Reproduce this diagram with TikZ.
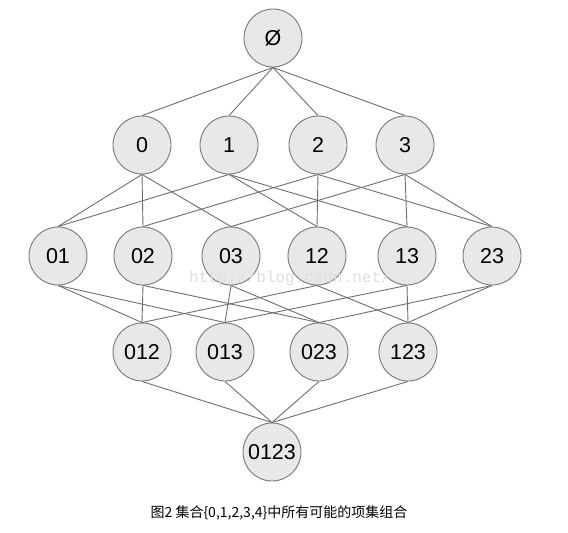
\documentclass[tikz,border=0pt]{standalone}
\usepackage{fontspec}
\setmainfont{Liberation Sans}
\setmonofont{Liberation Mono}
\newfontfamily\cjk{Noto Sans CJK SC}
\usepackage{xcolor}
\usepackage{tikz}
\usetikzlibrary{positioning}
\definecolor{setfill}{RGB}{232, 232, 232}
\definecolor{setline}{RGB}{120, 120, 120}
\definecolor{edgegray}{RGB}{110, 110, 110}
\definecolor{markgray}{RGB}{222, 222, 222}

\begin{document}
\begin{tikzpicture}[x=1pt, y=-1pt,
                itemset/.style={circle, draw=setline, fill=setfill, line width=0.9pt,
                                minimum size=58pt, inner sep=0pt,
                                font=\fontsize{21.5}{21.5}\selectfont},
                link/.style={draw=edgegray, line width=0.9pt}]
                \useasboundingbox (0,0) rectangle (568,533);
                % empty set
                \node[itemset] (e) at (273,38) {Ø};
                % 1-item sets
                \node[itemset] (n0) at (142,145) {0};
                \node[itemset] (n1) at (229,145) {1};
                \node[itemset] (n2) at (318,145) {2};
                \node[itemset] (n3) at (405,145) {3};
                % 2-item sets
                \node[itemset] (n01) at (58,256) {01};
                \node[itemset] (n02) at (143,256) {02};
                \node[itemset] (n03) at (231,256) {03};
                \node[itemset] (n12) at (317,256) {12};
                \node[itemset] (n13) at (407,256) {13};
                \node[itemset] (n23) at (492,256) {23};
                % 3-item sets
                \node[itemset] (n012) at (142,352) {012};
                \node[itemset] (n013) at (225,352) {013};
                \node[itemset] (n023) at (319,352) {023};
                \node[itemset] (n123) at (408,352) {123};
                % full set
                \node[itemset] (n0123) at (272,452) {0123};

                \foreach \a/\b in {e/n0, e/n1, e/n2, e/n3,
                                   n0/n01, n0/n02, n0/n03,
                                   n1/n01, n1/n12, n1/n13,
                                   n2/n02, n2/n12, n2/n23,
                                   n3/n03, n3/n13, n3/n23,
                                   n01/n012, n01/n013, n02/n012, n02/n023,
                                   n03/n013, n03/n023, n12/n012, n12/n123,
                                   n13/n013, n13/n123, n23/n023, n23/n123,
                                   n012/n0123, n013/n0123, n023/n0123, n123/n0123}
                      \draw[link] (\a.south) -- (\b.north);

                % watermark
                \node[text=markgray, font=\ttfamily\fontsize{16}{16}\selectfont]
                      (mark) at (290,278) {http://blog.csdn.net/};
                % caption
                \node[font=\cjk\fontsize{14}{14}\selectfont] (cap) at (279,513)
                      {图2 集合\{0,1,2,3,4\}中所有可能的项集组合};
            \end{tikzpicture}
\end{document}
